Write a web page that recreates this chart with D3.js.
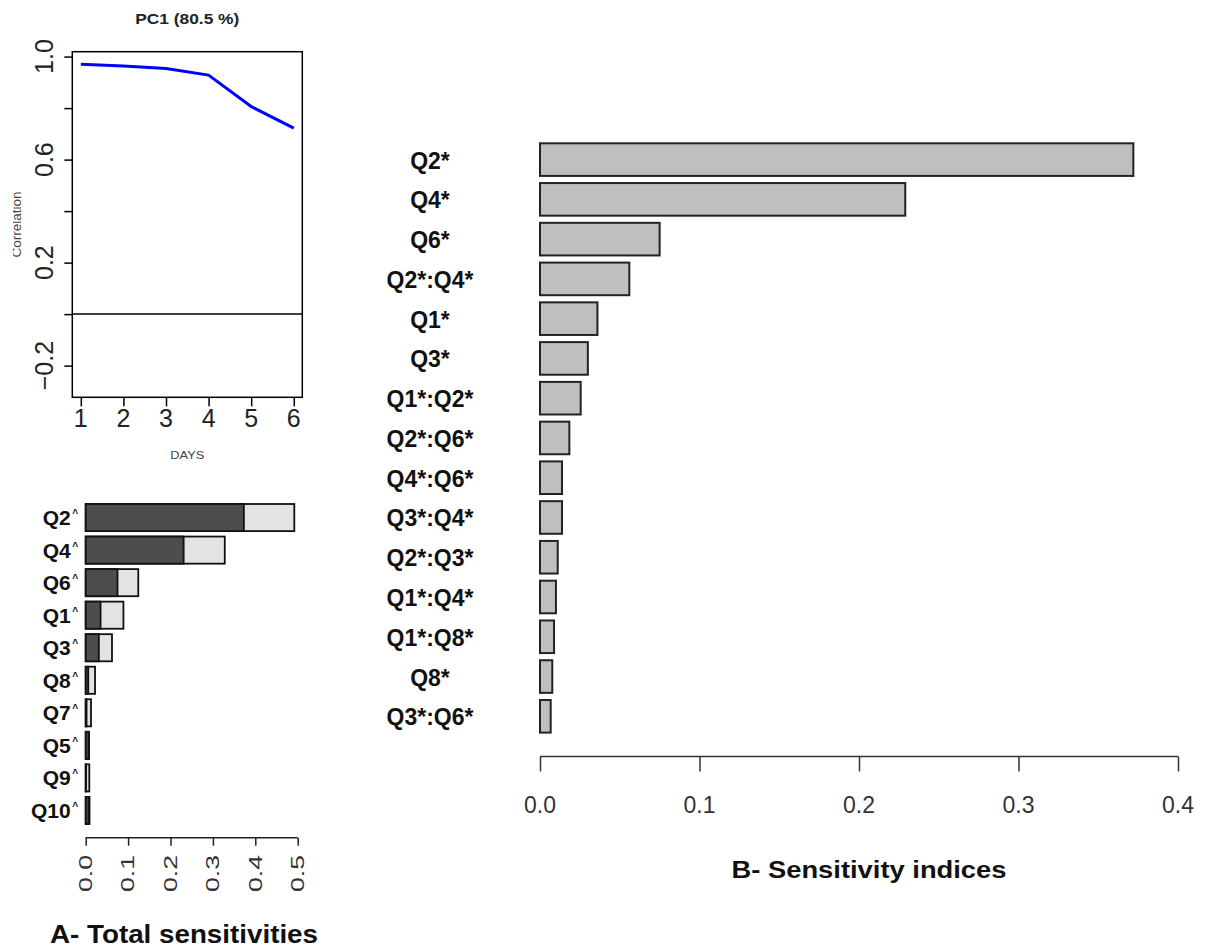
<!DOCTYPE html>
<html>
<head>
<meta charset="utf-8">
<script src="https://cdn.jsdelivr.net/npm/d3@7"></script>
<style>
  html, body { margin: 0; padding: 0; background: #fff; }
  svg { display: block; }
  text { font-family: "Liberation Sans", Arial, sans-serif; }
</style>
</head>
<body>
<svg id="chart" width="1212" height="948"></svg>
<script>
// ---------- DATA ----------
const lineTitle = "PC1 (80.5 %)";
const lineDays = [1, 2, 3, 4, 5, 6];
const lineCorr = [0.970, 0.963, 0.954, 0.928, 0.806, 0.722];
const lineYTicks = [-0.2, 0, 0.2, 0.4, 0.6, 0.8, 1.0];
const lineYTickLabels = ["\u22120.2", "", "0.2", "", "0.6", "", "1.0"];
const lineXTicks = [1, 2, 3, 4, 5, 6];

const totalCats = ["Q2", "Q4", "Q6", "Q1", "Q3", "Q8", "Q7", "Q5", "Q9", "Q10"];
const totalMain = [0.373, 0.231, 0.075, 0.035, 0.031, 0.006, 0.002, 0.007, 0.001, 0.007];
const totalAll  = [0.492, 0.328, 0.124, 0.089, 0.062, 0.022, 0.0125, 0.008, 0.0085, 0.009];
const totalTicks = [0, 0.1, 0.2, 0.3, 0.4, 0.5];

const sensCats = ["Q2*", "Q4*", "Q6*", "Q2*:Q4*", "Q1*", "Q3*", "Q1*:Q2*", "Q2*:Q6*",
                  "Q4*:Q6*", "Q3*:Q4*", "Q2*:Q3*", "Q1*:Q4*", "Q1*:Q8*", "Q8*", "Q3*:Q6*"];
const sensVals = [0.372, 0.229, 0.075, 0.056, 0.036, 0.030, 0.0255, 0.0184,
                  0.0138, 0.0138, 0.0111, 0.0100, 0.0088, 0.0077, 0.0067];
const sensTicks = [0, 0.1, 0.2, 0.3, 0.4];

// ---------- DRAW ----------
const svg = d3.select("#chart");

// ===== Top-left line chart =====
{
  const box = {l: 72.3, r: 302.3, t: 51.7, b: 397.3};
  const x = d3.scaleLinear().domain([0.8, 6.2]).range([box.l, box.r]);
  const y = d3.scaleLinear().domain([-0.323, 1.019]).range([box.b, box.t]);
  const g = svg.append("g");

  // title
  g.append("text").attr("x", (box.l + box.r) / 2).attr("y", 24)
    .attr("text-anchor", "middle").attr("font-weight", "bold").attr("font-size", 15)
    .attr("fill", "#222").attr("textLength", 104).attr("lengthAdjust", "spacingAndGlyphs")
    .text(lineTitle);

  // zero line
  g.append("line").attr("x1", box.l).attr("x2", box.r)
    .attr("y1", y(0)).attr("y2", y(0)).attr("stroke", "#000").attr("stroke-width", 1.5);

  // series line
  const line = d3.line().x((d, i) => x(lineDays[i])).y(d => y(d));
  g.append("path").datum(lineCorr).attr("d", line).attr("fill", "none")
    .attr("stroke", "#0000ff").attr("stroke-width", 3).attr("stroke-linejoin", "round");

  // box
  g.append("rect").attr("x", box.l).attr("y", box.t)
    .attr("width", box.r - box.l).attr("height", box.b - box.t)
    .attr("fill", "none").attr("stroke", "#000").attr("stroke-width", 1.5);

  // y axis
  const yAxis = d3.axisLeft(y).tickValues(lineYTicks).tickSize(8).tickFormat("");
  const ya = g.append("g").attr("transform", `translate(${box.l},0)`).call(yAxis);
  ya.select(".domain").remove();
  ya.selectAll("line").attr("stroke", "#000").attr("stroke-width", 1.5);
  lineYTicks.forEach((v, i) => {
    if (!lineYTickLabels[i]) return;
    g.append("text").attr("transform", `translate(53,${y(v)}) rotate(-90)`)
      .attr("text-anchor", "middle").attr("font-size", 25).attr("fill", "#222")
      .text(lineYTickLabels[i]);
  });

  // x axis
  const xAxis = d3.axisBottom(x).tickValues(lineXTicks).tickSize(9).tickFormat("");
  const xa = g.append("g").attr("transform", `translate(0,${box.b})`).call(xAxis);
  xa.select(".domain").remove();
  xa.selectAll("line").attr("stroke", "#000").attr("stroke-width", 1.5);
  lineXTicks.forEach(v => {
    g.append("text").attr("x", x(v)).attr("y", 426.5).attr("text-anchor", "middle")
      .attr("font-size", 25).attr("fill", "#222").text(v);
  });

  // axis titles
  g.append("text").attr("x", (box.l + box.r) / 2).attr("y", 459).attr("text-anchor", "middle")
    .attr("font-size", 11).attr("fill", "#444").attr("textLength", 34)
    .attr("lengthAdjust", "spacingAndGlyphs").text("DAYS");
  svg.append("clipPath").attr("id", "clipCorr").append("rect")
    .attr("x", 13).attr("y", 150).attr("width", 20).attr("height", 150);
  g.append("g").attr("clip-path", "url(#clipCorr)")
    .append("text")
    .attr("transform", `translate(21,${(box.t + box.b) / 2}) rotate(-90)`)
    .attr("text-anchor", "middle").attr("font-size", 12).attr("fill", "#444")
    .attr("textLength", 66).attr("lengthAdjust", "spacingAndGlyphs").text("Correlation");
}

// ===== Bottom-left stacked total sensitivity bars =====
{
  const x = d3.scaleLinear().domain([0, 0.5]).range([85.7, 297.7]);
  const y = d3.scaleBand().domain(totalCats).range([504, 824]).paddingInner(0.1667).paddingOuter(0);
  const g = svg.append("g");

  totalCats.forEach((c, i) => {
    // light (total) bar
    g.append("rect").attr("x", x(0)).attr("y", y(c))
      .attr("width", x(totalAll[i]) - x(0)).attr("height", y.bandwidth())
      .attr("fill", "#e3e3e3").attr("stroke", "#111").attr("stroke-width", 1.8);
    // dark (main) bar
    g.append("rect").attr("x", x(0)).attr("y", y(c))
      .attr("width", x(totalMain[i]) - x(0)).attr("height", y.bandwidth())
      .attr("fill", "#4d4d4d").attr("stroke", "#111").attr("stroke-width", 1.8);
    // label
    const t = g.append("text").attr("x", 78).attr("y", y(c) + y.bandwidth() / 2 + 7.5)
      .attr("text-anchor", "end").attr("font-weight", "bold").attr("font-size", 21)
      .attr("fill", "#111");
    t.append("tspan").text(c);
    t.append("tspan").attr("font-size", 10).attr("dy", -8).attr("dx", 1.5).text("^");
  });

  // axis
  const axis = d3.axisBottom(x).tickValues(totalTicks).tickSize(8).tickSizeOuter(0).tickFormat("");
  const a = g.append("g").attr("transform", "translate(0,837.7)").call(axis);
  a.select(".domain").attr("stroke", "#222").attr("stroke-width", 1.5)
    .attr("d", `M${x(0)},0H${x(0.5)}`);
  a.selectAll("line").attr("stroke", "#222").attr("stroke-width", 1.5);
  totalTicks.forEach(v => {
    g.append("text").attr("transform", `translate(${x(v) + 6.3},855) rotate(-90)`)
      .attr("text-anchor", "end").attr("font-size", 18).attr("fill", "#333")
      .attr("textLength", 37).attr("lengthAdjust", "spacingAndGlyphs")
      .text(d3.format(".1f")(v));
  });

  g.append("text").attr("x", 184).attr("y", 943).attr("text-anchor", "middle")
    .attr("font-family", "DejaVu Sans").attr("font-weight", "bold").attr("font-size", 26)
    .attr("fill", "#111").attr("textLength", 268).attr("lengthAdjust", "spacingAndGlyphs")
    .text("A- Total sensitivities");
}

// ===== Right sensitivity indices bars =====
{
  const x = d3.scaleLinear().domain([0, 0.4]).range([540, 1178]);
  const y = d3.scaleBand().domain(sensCats).range([143.3, 732.6]).paddingInner(0.18).paddingOuter(0);
  const g = svg.append("g");

  g.selectAll("rect.bar").data(sensCats).enter().append("rect").attr("class", "bar")
    .attr("x", x(0)).attr("y", d => y(d))
    .attr("width", (d, i) => x(sensVals[i]) - x(0)).attr("height", y.bandwidth())
    .attr("fill", "#bfbfbf").attr("stroke", "#222").attr("stroke-width", 2);

  g.selectAll("text.lab").data(sensCats).enter().append("text").attr("class", "lab")
    .attr("x", 430).attr("y", d => y(d) + y.bandwidth() / 2 + 9)
    .attr("text-anchor", "middle").attr("font-weight", "bold").attr("font-size", 23)
    .attr("fill", "#111").text(d => d);

  const axis = d3.axisBottom(x).tickValues(sensTicks).tickSize(15).tickSizeOuter(0).tickFormat("");
  const a = g.append("g").attr("transform", "translate(0,756.5)").call(axis);
  a.select(".domain").attr("stroke", "#333").attr("stroke-width", 1.5)
    .attr("d", `M${x(0)},0H${x(0.4)}`);
  a.selectAll("line").attr("stroke", "#333").attr("stroke-width", 1.5);
  sensTicks.forEach(v => {
    g.append("text").attr("x", x(v)).attr("y", 813).attr("text-anchor", "middle")
      .attr("font-size", 23).attr("fill", "#333").text(d3.format(".1f")(v));
  });

  g.append("text").attr("x", 869).attr("y", 878).attr("text-anchor", "middle")
    .attr("font-family", "DejaVu Sans").attr("font-weight", "bold").attr("font-size", 23)
    .attr("fill", "#111").attr("textLength", 275).attr("lengthAdjust", "spacingAndGlyphs")
    .text("B- Sensitivity indices");
}
</script>
</body>
</html>
